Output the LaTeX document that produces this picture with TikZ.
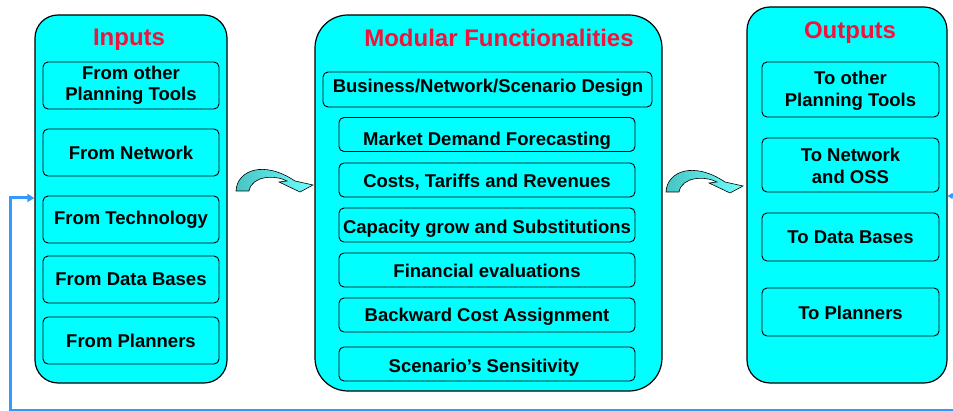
\documentclass[tikz,border=0pt]{standalone}
\usepackage{fontspec}
\setmainfont{Liberation Sans}
\usetikzlibrary{arrows.meta}
\definecolor{boxcyan}{RGB}{0,255,255}
\definecolor{titlered}{RGB}{240,20,60}
\definecolor{fbblue}{RGB}{51,153,255}
\definecolor{arrdark}{RGB}{72,196,196}
\definecolor{arrlight}{RGB}{110,255,255}
\begin{document}
\begin{tikzpicture}[x=1pt,y=-1pt,
  bigbox/.style={draw=black,line width=1.2pt,fill=boxcyan,inner sep=0pt},
  subbox/.style={draw=black,line width=0.9pt,fill=boxcyan,rounded corners=5pt,inner sep=0pt},
  txt/.style={font=\bfseries\fontsize{18.5}{21.5}\selectfont,align=center,inner sep=0pt},
  ttl/.style={font=\bfseries\fontsize{24}{28}\selectfont,text=titlered,inner sep=0pt},
  fb/.style={draw=fbblue,line width=3pt},
  arrowshade/.style={draw=black,line width=0.6pt,left color=arrdark,right color=arrlight}]
\useasboundingbox (0,0) rectangle (953,411);

% big boxes
\node[bigbox,rounded corners=23pt,minimum width=192pt,minimum height=368pt] (inputs) at (131,199) {};
\node[bigbox,rounded corners=33pt,minimum width=347pt,minimum height=376pt] (modular) at (488.5,203) {};
\node[bigbox,rounded corners=23pt,minimum width=200pt,minimum height=376pt] (outputs) at (847,195) {};

% titles
\node[ttl] (tin) at (129,40) {Inputs};
\node[ttl] (tmod) at (499,38) {Modular Functionalities};
\node[ttl] (tout) at (850,33) {Outputs};

% inputs
\node[subbox,minimum width=176pt,minimum height=47pt] (i1) at (131,85.5) {};
\node[subbox,minimum width=176pt,minimum height=47pt] (i2) at (131,152.5) {};
\node[subbox,minimum width=176pt,minimum height=47pt] (i3) at (131,219.5) {};
\node[subbox,minimum width=176pt,minimum height=47pt] (i4) at (131,279.5) {};
\node[subbox,minimum width=176pt,minimum height=47pt] (i5) at (131,340.5) {};
\node[txt] (ti1) at (i1) {From other\\Planning Tools};
\node[txt] (ti2) at (i2) {From Network};
\node[txt] (ti3) at (i3) {From Technology};
\node[txt] (ti4) at (i4) {From Data Bases};
\node[txt] (ti5) at (i5) {From Planners};

% modular
\node[subbox,minimum width=329pt,minimum height=35pt] (m1) at (487.5,89.5) {};
\node[subbox,minimum width=296pt,minimum height=34pt] (m2) at (487,134.5) {};
\node[subbox,minimum width=296pt,minimum height=34pt] (m3) at (487,180) {};
\node[subbox,minimum width=296pt,minimum height=34pt] (m4) at (487,225) {};
\node[subbox,minimum width=296pt,minimum height=34pt] (m5) at (487,270) {};
\node[subbox,minimum width=296pt,minimum height=34pt] (m6) at (487,315) {};
\node[subbox,minimum width=296pt,minimum height=34pt] (m7) at (487,364) {};
\node[txt] (tm1) at (488,88) {Business/Network/Scenario Design};
\node[txt] (tm2) at (487,141) {Market Demand Forecasting};
\node[txt] (tm3) at (487,182) {Costs, Tariffs and Revenues};
\node[txt] (tm4) at (487,229) {Capacity grow and Substitutions};
\node[txt] (tm5) at (487,271) {Financial evaluations};
\node[txt] (tm6) at (487,317) {Backward Cost Assignment};
\node[txt] (tm7) at (484,368) {Scenario’s Sensitivity};

% outputs
\node[subbox,minimum width=177pt,minimum height=55pt] (o1) at (850.5,89.5) {};
\node[subbox,minimum width=177pt,minimum height=54pt] (o2) at (850.5,165) {};
\node[subbox,minimum width=177pt,minimum height=48pt] (o3) at (850.5,237) {};
\node[subbox,minimum width=177pt,minimum height=48pt] (o4) at (850.5,312) {};
\node[txt] (to1) at (850.5,91) {To other\\Planning Tools};
\node[txt] (to2) at (850.5,166) {To Network\\and OSS};
\node[txt] (to3) at (850.5,237) {To Data Bases};
\node[txt] (to4) at (850.5,313) {To Planners};

% curved block arrows
\shadedraw[arrowshade] (236,191) .. controls (237,170) and (264,160) .. (295,181)
  -- (313,185) -- (300,192) -- (279,182) -- (287,181)
  .. controls (276,175) and (252,175) .. (249,191) -- cycle;
\begin{scope}[shift={(430,1)}]
\shadedraw[arrowshade] (236,191) .. controls (237,170) and (264,160) .. (295,181)
  -- (313,185) -- (300,192) -- (279,182) -- (287,181)
  .. controls (276,175) and (252,175) .. (249,191) -- cycle;
\end{scope}

% feedback loop
\coordinate (fbTR) at (962,196);
\coordinate (fbBR) at (962,410);
\coordinate (fbBL) at (10.5,410);
\coordinate (fbTL) at (10.5,198);
\draw[fb,{Triangle[length=5pt,width=6pt]}-{Triangle[length=7pt,width=8pt]}]
  (outputs.east |- fbTR) -- (fbTR) -- (fbBR) -- (fbBL) -- (fbTL) -- (inputs.west |- fbTL);
\end{tikzpicture}
\end{document}
